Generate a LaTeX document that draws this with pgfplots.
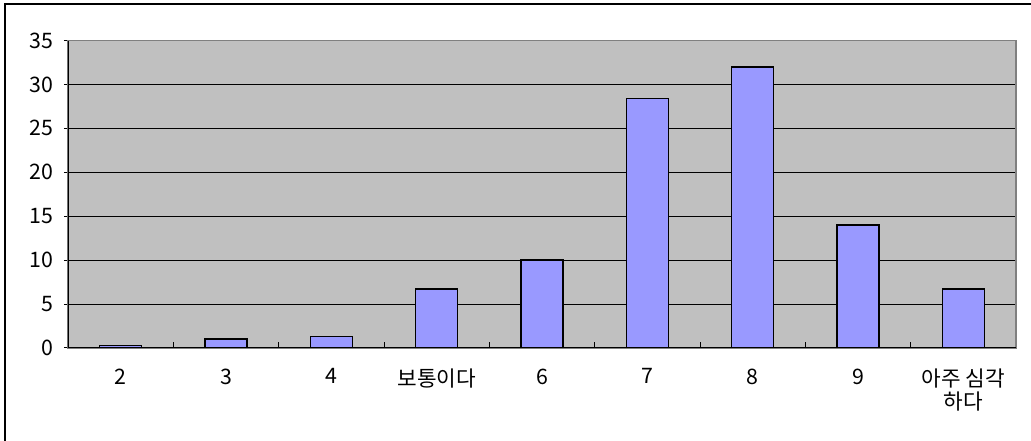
\documentclass[border=0pt]{standalone}
\usepackage{fontspec}
\setmainfont{Noto Sans CJK KR}
\usepackage{pgfplots}
\pgfplotsset{compat=1.18}
\definecolor{plotbg}{HTML}{C0C0C0}
\definecolor{barfill}{HTML}{9999FF}
\definecolor{frameg}{HTML}{808080}
\newcommand{\tickfont}{\fontsize{16}{17.5}\selectfont}
\begin{document}
\begin{tikzpicture}[x=1pt,y=1pt]
\useasboundingbox (-51pt,-69.75pt) rectangle (722.25pt,261pt);
\draw[black, line width=0.9pt] (-47.25pt,-80pt) -- (-47.25pt,258pt) -- (740pt,258pt);
\begin{axis}[
  at={(0,0)}, anchor=south west,
  scale only axis,
  width=711pt, height=230.6pt,
  xmin=-0.5, xmax=8.5,
  ymin=0, ymax=35,
  ytick={0,5,...,35},
  xtick={0,...,8},
  xticklabels={2,3,4,보통이다,6,7,8,9,{아주 심각\\하다}},
  minor xtick={0.5,1.5,...,7.5},
  major x tick style={draw=none},
  minor x tick style={black, line width=0.75pt},
  minor tick length=4.5pt,
  y tick style={black, line width=0.75pt},
  major tick length=3pt,
  ytick align=outside,
  xtick pos=bottom, ytick pos=left,
  ymajorgrids,
  major grid style={black, line width=0.75pt},
  axis background/.style={fill=plotbg},
  axis line style={frameg, line width=1pt},
  every tick label/.append style={font=\tickfont},
  xticklabel style={black, align=center, anchor=north, yshift=-12pt},
  yticklabel style={black, anchor=east, xshift=-4.5pt},
  /pgf/number format/assume math mode=true,
]
\addplot[ybar, bar width=31.5pt, fill=barfill, draw=black, line width=1.2pt]
  coordinates {(0,0.3) (1,1.0) (2,1.3) (3,6.7) (4,10.0) (5,28.4) (6,32.0) (7,14.0) (8,6.7)};
\draw[black, line width=1.2pt] (rel axis cs:0,0) -- (rel axis cs:1,0);
\draw[black, line width=1pt] (rel axis cs:0,0) -- (rel axis cs:0,1);
\end{axis}
\end{tikzpicture}
\end{document}
